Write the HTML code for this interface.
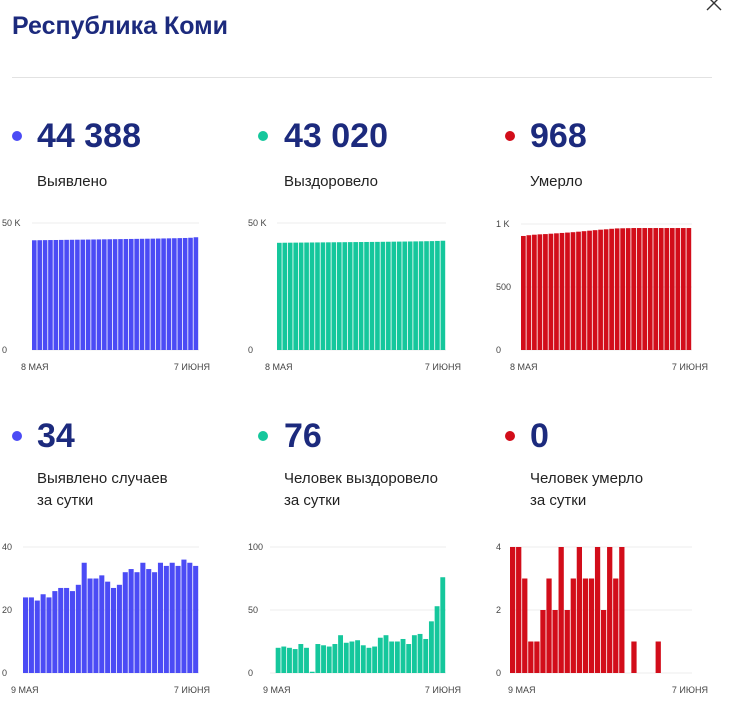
<!DOCTYPE html>
<html><head><meta charset="utf-8"><style>
body{margin:0;width:733px;height:715px;background:#fff;font-family:"Liberation Sans",Arial,sans-serif;position:relative;overflow:hidden}
.abs{position:absolute}
.title{left:12px;top:12px;font-size:25px;font-weight:bold;color:#1c2a7d}
.hr{left:12px;top:77px;width:700px;height:1px;background:#e2e2e2}
.dot{width:10px;height:10px;border-radius:50%}
.big{font-size:34px;font-weight:bold;color:#1c2a7d}
.lbl{font-size:15px;color:#222;line-height:22px}
svg text{font-family:"Liberation Sans",Arial,sans-serif;font-size:9px;fill:#444}
</style></head><body>
<div class="abs title">Республика Коми</div>
<svg class="abs" style="left:705px;top:-6px" width="18" height="18"><path d="M2 2L16 16M16 2L2 16" stroke="#333" stroke-width="1.4"/></svg>
<div class="abs hr"></div>

<div class="abs dot" style="left:12px;top:131px;background:#4b4bf5"></div>
<div class="abs big" style="left:37px;top:117px">44 388</div>
<div class="abs lbl" style="left:37px;top:171px">Выявлено</div>
<div class="abs dot" style="left:258px;top:131px;background:#15c79c"></div>
<div class="abs big" style="left:284px;top:117px">43 020</div>
<div class="abs lbl" style="left:284px;top:171px">Выздоровело</div>
<div class="abs dot" style="left:505px;top:131px;background:#d20d1a"></div>
<div class="abs big" style="left:530px;top:117px">968</div>
<div class="abs lbl" style="left:530px;top:171px">Умерло</div>

<div class="abs dot" style="left:12px;top:431px;background:#4b4bf5"></div>
<div class="abs big" style="left:37px;top:417px">34</div>
<div class="abs lbl" style="left:37px;top:468px">Выявлено случаев<br>за сутки</div>
<div class="abs dot" style="left:258px;top:431px;background:#15c79c"></div>
<div class="abs big" style="left:284px;top:417px">76</div>
<div class="abs lbl" style="left:284px;top:468px">Человек выздоровело<br>за сутки</div>
<div class="abs dot" style="left:505px;top:431px;background:#d20d1a"></div>
<div class="abs big" style="left:530px;top:417px">0</div>
<div class="abs lbl" style="left:530px;top:468px">Человек умерло<br>за сутки</div>

<svg id="s" class="abs" style="left:0;top:0" width="733" height="715"></svg>
<script>
const casesTotal=[43200,43230,43260,43290,43310,43340,43370,43390,43420,43450,43480,43510,43540,43570,43600,43630,43660,43690,43720,43750,43780,43810,43840,43880,43920,43960,44000,44050,44100,44190,44388];
const recTotal=[42200,42230,42250,42270,42290,42310,42330,42350,42370,42390,42410,42430,42450,42470,42490,42510,42530,42550,42570,42600,42620,42650,42680,42700,42730,42760,42790,42830,42870,42940,43020];
const deathTotal=[905,911,915,918,920,923,926,929,932,935,939,943,947,951,955,958,962,965,966,967,968,968,968,968,968,968,968,968,968,968,968];
const casesDaily=[24,24,23,25,24,26,27,27,26,28,35,30,30,31,29,27,28,32,33,32,35,33,32,35,34,35,34,36,35,34];
const recDaily=[0,20,21,20,19,23,20,1,23,22,21,23,30,24,25,26,22,20,21,28,30,25,25,27,23,30,31,27,41,53,76];
const deathDaily=[4,4,3,1,1,2,3,2,4,2,3,4,3,3,4,2,4,3,4,0,1,0,0,0,1,0,0,0,0,0];
const topTicks=[[0,"0"],[50000,"50 K"]];
const deathTicks=[[0,"0"],[500,"500"],[1000,"1 K"]];
const casesDailyTicks=[[0,"0"],[20,"20"],[40,"40"]];
const recDailyTicks=[[0,"0"],[50,"50"],[100,"100"]];
const deathDailyTicks=[[0,"0"],[2,"2"],[4,"4"]];
const s=document.getElementById('s');
const NS="http://www.w3.org/2000/svg";
function mk(t,a){const e=document.createElementNS(NS,t);for(const k in a)e.setAttribute(k,a[k]);s.appendChild(e);return e;}
function chart(name,vals,ticks,max,x0,x1,lx,y0,y1,color,d1,d1x,d2,d2x){
  const y=v=>y0-(v/max)*(y0-y1);
  ticks.forEach(t=>{
    const l=mk('line',{x1:x0,x2:x1,y1:y(t[0]),y2:y(t[0]),stroke:'#ececec'});
    
    
    const tx=mk('text',{x:lx,y:y(t[0])+3});tx.textContent=t[1];
    
    
  });
  const w=(x1-x0)/vals.length;
  vals.forEach((v,i)=>{
    if(v<=0)return;
    const r=mk('rect',{x:x0+i*w,y:y(v),width:w-0.8,height:y0-y(v),fill:color});
    
    
  });
  const a=mk('text',{x:d1x,y:y0+20});a.textContent=d1;
  
  
  const b=mk('text',{x:d2x,y:y0+20,'text-anchor':'end'});b.textContent=d2;
  
  
}
chart('cases-chart',casesTotal,topTicks,50000,32,199,2,350,223,'#4b4bf5','8 МАЯ',21,'7 ИЮНЯ',210);
chart('recovered-chart',recTotal,topTicks,50000,277,446,248,350,223,'#15c79c','8 МАЯ',265,'7 ИЮНЯ',461);
chart('deaths-chart',deathTotal,deathTicks,1000,521,692,496,350,224,'#d20d1a','8 МАЯ',510,'7 ИЮНЯ',708);
chart('daily-cases-chart',casesDaily,casesDailyTicks,40,23,199,2,673,547,'#4b4bf5','9 МАЯ',11,'7 ИЮНЯ',210);
chart('daily-recovered-chart',recDaily,recDailyTicks,100,270,446,248,673,547,'#15c79c','9 МАЯ',263,'7 ИЮНЯ',461);
chart('daily-deaths-chart',deathDaily,deathDailyTicks,4,510,692,496,673,547,'#d20d1a','9 МАЯ',508,'7 ИЮНЯ',708);
</script>
</body></html>
